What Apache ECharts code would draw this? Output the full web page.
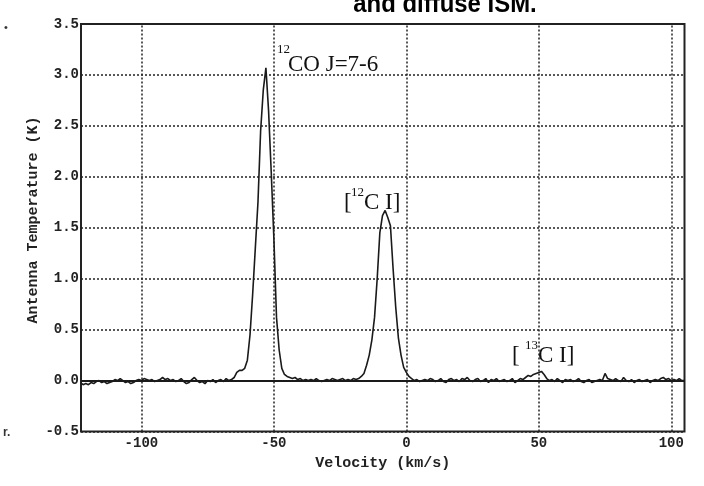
<!DOCTYPE html>
<html>
<head>
<meta charset="utf-8">
<script src="https://cdn.jsdelivr.net/npm/echarts@6/dist/echarts.min.js"></script>
<style>
html,body{margin:0;padding:0;background:#fff;}
#chart{width:704px;height:486px;}
</style>
</head>
<body>
<div id="chart"></div>
<script>
// ---- data ----
const velocity = [
-123,-122,-121,-120,-119,-118,-117,-116,-115,-114,-113,-112,-111,-110,-109,-108,-107,-106,-105,-104,
-103,-102,-101,-100,-99,-98,-97,-96,-95,-94,-93,-92,-91,-90,-89,-88,-87,-86,-85,-84,
-83,-82,-81,-80,-79,-78,-77,-76,-75,-74,-73,-72,-71,-70,-69,-68,-67,-66,-65,-64,
-63,-62,-61,-60,-59,-58,-57,-56,-55,-54,-53,-52,-51,-50,-49,-48,-47,-46,-45,-44,
-43,-42,-41,-40,-39,-38,-37,-36,-35,-34,-33,-32,-31,-30,-29,-28,-27,-26,-25,-24,
-23,-22,-21,-20,-19,-18,-17,-16,-15,-14,-13,-12,-11,-10,-9,-8,-7,-6,-5,-4,
-3,-2,-1,0,1,2,3,4,5,6,7,8,9,10,11,12,13,14,15,16,
17,18,19,20,21,22,23,24,25,26,27,28,29,30,31,32,33,34,35,36,
37,38,39,40,41,42,43,44,45,46,47,48,49,50,51,52,53,54,55,56,
57,58,59,60,61,62,63,64,65,66,67,68,69,70,71,72,73,74,75,76,
77,78,79,80,81,82,83,84,85,86,87,88,89,90,91,92,93,94,95,96,
97,98,99,100,101,102,103,104,105
];
const temperature = [
-0.02,-0.04,-0.03,-0.04,-0.02,-0.03,-0.01,0.00,-0.02,-0.01,-0.03,-0.02,-0.01,0.01,0.00,0.02,0.00,-0.02,-0.01,-0.03,
-0.02,0.00,0.01,0.00,0.02,0.01,0.00,0.01,-0.01,0.00,0.01,0.03,0.01,0.02,0.00,0.01,-0.01,0.00,0.02,-0.01,
-0.03,-0.02,0.01,0.03,0.00,-0.02,-0.01,-0.03,0.00,-0.01,0.01,-0.02,0.00,0.01,-0.01,0.02,0.00,0.01,0.03,0.08,
0.10,0.10,0.12,0.20,0.45,0.85,1.30,1.75,2.45,2.85,3.07,2.65,2.05,1.40,0.62,0.30,0.12,0.06,0.04,0.03,
0.02,0.03,0.01,0.02,0.00,0.01,0.00,0.01,0.00,0.02,0.00,-0.01,0.00,0.01,0.00,0.02,0.01,0.00,0.01,0.02,
0.00,0.01,0.00,0.02,0.01,0.02,0.04,0.07,0.15,0.25,0.40,0.62,1.00,1.45,1.62,1.67,1.60,1.52,1.10,0.72,
0.42,0.25,0.13,0.08,0.04,0.02,0.00,0.01,-0.01,0.00,0.01,0.00,0.02,0.01,-0.01,0.00,0.02,-0.01,-0.02,0.01,
0.02,0.00,0.01,-0.01,0.02,0.01,0.03,0.00,-0.01,0.01,0.02,-0.01,0.00,0.02,-0.02,0.01,0.00,0.02,-0.01,0.00,
0.01,-0.01,0.00,0.02,-0.02,0.00,0.02,0.01,0.03,0.05,0.04,0.06,0.07,0.08,0.09,0.06,0.02,0.00,0.01,-0.01,
0.02,0.00,-0.02,0.01,0.00,0.01,-0.01,0.00,0.02,-0.01,-0.02,0.00,0.01,-0.02,-0.01,0.00,0.01,0.00,0.07,0.02,
0.01,0.00,0.02,0.00,-0.01,0.03,0.00,-0.01,0.01,-0.02,0.00,0.01,-0.01,0.00,0.01,-0.02,0.00,0.01,0.00,0.02,
0.03,0.01,0.02,0.00,0.01,0.00,0.02,0.00,0.00
];
const xTicks = [-100, -50, 0, 50, 100];
const yTicks = [-0.5, 0, 0.5, 1.0, 1.5, 2.0, 2.5, 3.0, 3.5];
const xRange = [-122.8, 105];
const yRange = [-0.5, 3.5];

// ---- chart ----
const mono = "'Liberation Mono', 'DejaVu Sans Mono', monospace";
const serif = "'Liberation Serif', 'DejaVu Serif', serif";
const chart = echarts.init(document.getElementById('chart'), null, {renderer: 'canvas'});
const points = velocity.map((v, i) => [v, temperature[i]]);

const dotted = {color: '#222', width: 1.5, type: [2, 2]};

chart.setOption({
  animation: false,
  backgroundColor: '#fff',
  grid: {left: 81, top: 24, right: 19.5, bottom: 54.5, show: true, borderColor: '#222', borderWidth: 2, backgroundColor: 'transparent'},
  xAxis: {
    type: 'value', min: xRange[0], max: xRange[1],
    axisLine: {show: false}, axisTick: {show: false}, splitLine: {show: false},
    axisLabel: {customValues: xTicks, color: '#222', fontFamily: mono, fontWeight: 'bold', fontSize: 14, margin: 5},
    name: 'Velocity (km/s)', nameLocation: 'middle', nameGap: 22,
    nameTextStyle: {color: '#222', fontFamily: mono, fontWeight: 'bold', fontSize: 15}
  },
  yAxis: {
    type: 'value', min: yRange[0], max: yRange[1], interval: 0.5,
    axisLine: {show: false}, axisTick: {show: false},
    splitLine: {show: true, lineStyle: dotted},
    axisLabel: {color: '#222', fontFamily: mono, fontWeight: 'bold', fontSize: 14, margin: 2,
      formatter: v => v.toFixed(1)}
  },
  graphic: [
    {type: 'text', x: 33, y: 220, rotation: Math.PI / 2,
      style: {text: 'Antenna Temperature (K)', fill: '#222', font: "bold 15px " + mono, textAlign: 'center', textVerticalAlign: 'middle'}},
    {type: 'text', x: 445, y: 18, scaleX: 0.92,
      style: {text: 'and diffuse ISM.', fill: '#000', font: "bold 26px 'Liberation Sans', Arial, sans-serif", textAlign: 'center', textVerticalAlign: 'bottom'}},
    {type: 'text', x: 277, y: 43, style: {text: '12', fill: '#111', font: "13px " + serif, textAlign: 'left', textVerticalAlign: 'top'}},
    {type: 'text', x: 288, y: 76, style: {text: 'CO J=7-6', fill: '#111', font: "23px " + serif, textAlign: 'left', textVerticalAlign: 'bottom'}},
    {type: 'text', x: 344, y: 214, style: {text: '[', fill: '#111', font: "23px " + serif, textAlign: 'left', textVerticalAlign: 'bottom'}},
    {type: 'text', x: 351, y: 186, style: {text: '12', fill: '#111', font: "13px " + serif, textAlign: 'left', textVerticalAlign: 'top'}},
    {type: 'text', x: 364, y: 214, style: {text: 'C I]', fill: '#111', font: "23px " + serif, textAlign: 'left', textVerticalAlign: 'bottom'}},
    {type: 'text', x: 512, y: 367, style: {text: '[', fill: '#111', font: "23px " + serif, textAlign: 'left', textVerticalAlign: 'bottom'}},
    {type: 'text', x: 525, y: 339, style: {text: '13', fill: '#111', font: "13px " + serif, textAlign: 'left', textVerticalAlign: 'top'}},
    {type: 'text', x: 538, y: 367, style: {text: 'C I]', fill: '#111', font: "23px " + serif, textAlign: 'left', textVerticalAlign: 'bottom'}},
    {type: 'text', x: 4, y: 28, style: {text: '•', fill: '#333', font: "11px sans-serif", textVerticalAlign: 'middle'}},
    {type: 'text', x: 3, y: 433, style: {text: 'r.', fill: '#333', font: "bold 12px sans-serif", textVerticalAlign: 'middle'}}
  ],
  series: [{
    type: 'line', data: points, showSymbol: false, symbol: 'none',
    lineStyle: {color: '#1a1a1a', width: 1.6}, clip: true,
    markLine: {
      silent: true, symbol: 'none', label: {show: false}, animation: false,
      data: xTicks.map(v => ({xAxis: v, lineStyle: dotted}))
        .concat([{yAxis: 0, lineStyle: {color: '#1a1a1a', width: 1.8, type: 'solid'}}])
    }
  }]
});
</script>
</body>
</html>
